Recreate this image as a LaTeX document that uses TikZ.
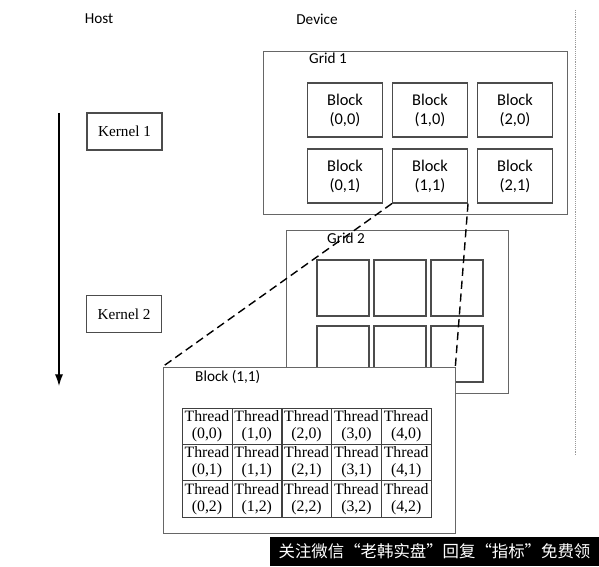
\documentclass[tikz,border=0pt]{standalone}
\usepackage{fontspec}
\setmainfont{Liberation Serif}
\newfontfamily\calibri{Carlito}
\newfontfamily\cjk{Noto Sans CJK SC}
\usetikzlibrary{arrows.meta}
\newcommand{\px}{0.03cm}

\begin{document}
\begin{tikzpicture}[
  x=0.03cm, y=-0.03cm,
  head/.style={font=\calibri\fontsize{13}{15}\selectfont, inner sep=0pt},
  frame/.style={draw=black!60, line width=0.6pt, fill=white, inner sep=0pt},
  kernelbox/.style={draw=black!70, line width=0.9pt, fill=white, minimum width=75*\px, minimum height=37*\px, font=\fontsize{13}{15}\selectfont},
  blockbox/.style={draw=black!70, line width=0.9pt, fill=white, align=center, inner sep=0pt, minimum width=75*\px, minimum height=54*\px, font=\calibri\fontsize{14}{16.2}\selectfont},
  emptybox/.style={draw=black!70, line width=0.9pt, fill=white, inner sep=0pt, minimum width=52*\px, minimum height=56*\px},
  threadcell/.style={draw=black!75, line width=0.5pt, align=center, inner sep=0pt, minimum width=50*\px, minimum height=36.3*\px, font=\fontsize{13.5}{14.6}\selectfont},
  zoomline/.style={black, line width=1.2pt, dash pattern=on 7pt off 4pt},
  timeline/.style={-{Latex[length=10pt,width=7pt]}, line width=1pt}
]
\useasboundingbox (0,0) rectangle (599,566);

\node[head] (host) at (99,19) {Host};
\node[head] (device) at (317,19) {Device};
\coordinate (devtop) at (575,10);
\coordinate (devbot) at (575,455);
\draw[black!40, line width=0.6pt, densely dotted] (devtop) -- (devbot);

% host side
\node[kernelbox] (k1) at (124.5,131.5) {Kernel 1};
\node[kernelbox] (k2) at (124,314) {Kernel 2};
\coordinate (tstart) at (59,113);
\coordinate (tend) at (59,386);
\draw[timeline] (tstart) -- (tend);

% grid 1
\node[frame, minimum width=304*\px, minimum height=163*\px] (grid1) at (415,132.5) {};
\node[head, anchor=west] (g1label) at (309,58) {Grid 1};
\foreach \i in {0,1,2}
  \foreach \j in {0,1}
    \node[blockbox] (b\i\j) at ({345+85*\i},{110+66*\j}) {Block\\(\i,\j)};

% grid 2
\node[frame, minimum width=222*\px, minimum height=163*\px] (grid2) at (397,311.5) {};
\node[head, anchor=west] (g2label) at (327,238) {Grid 2};
\foreach \i in {0,1,2}
  \foreach \j in {0,1}
    \node[emptybox] (c\i\j) at ({343+57*\i},{288+66*\j}) {};

% block (1,1) close up
\node[frame, minimum width=292*\px, minimum height=166*\px] (panel) at (309,450) {};
\node[head, anchor=west] (plabel) at (195,377) {Block (1,1)};
\foreach \i in {0,...,4}
  \foreach \j in {0,1,2}
    \node[threadcell] (t\i\j) at ({207+49.8*\i},{426.2+36.3*\j}) {Thread\\(\i,\j)};

\draw[zoomline] (b11.south west) -- (panel.north west);
\draw[zoomline] (b11.south east) -- (panel.north east);

\node[fill=black, text=white, inner sep=0pt, minimum width=329*\px, minimum height=29*\px,
  font=\cjk\fontsize{14}{16}\selectfont] (banner) at (434.5,551.5) {关注微信“老韩实盘”回复“指标”免费领};

\end{tikzpicture}
\end{document}
